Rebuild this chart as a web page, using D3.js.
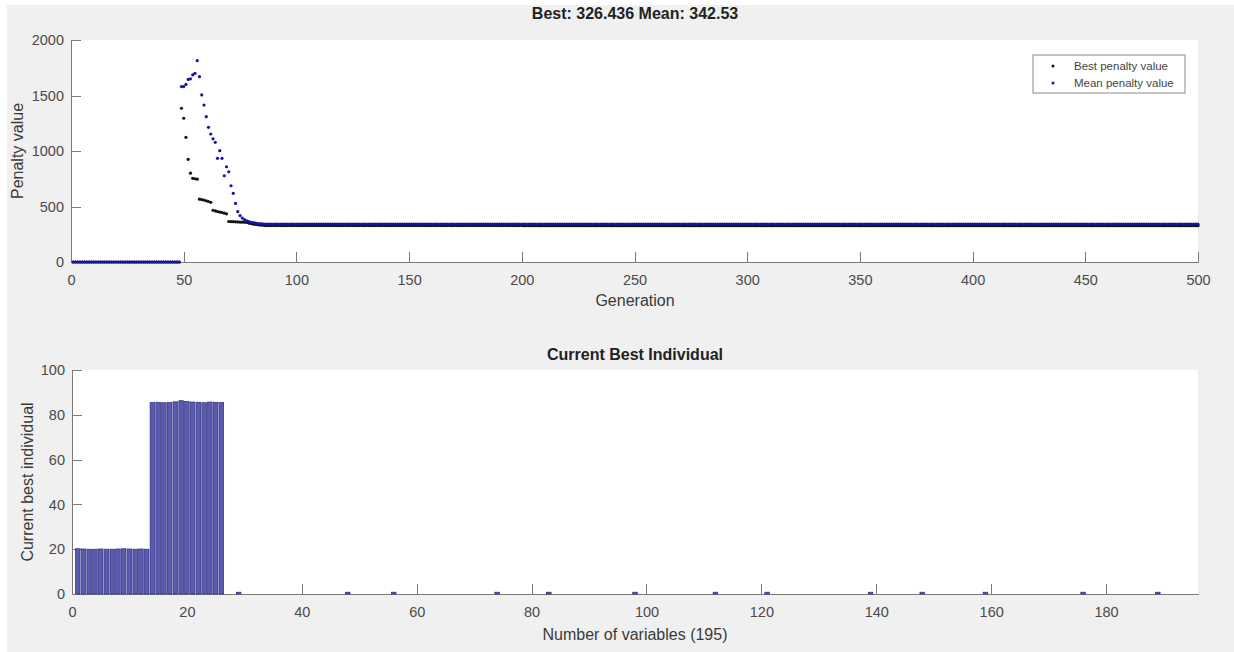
<!DOCTYPE html>
<html>
<head>
<meta charset="utf-8">
<script src="https://cdn.jsdelivr.net/npm/d3@7"></script>
<style>
  body { margin: 0; background: #fff; }
  text { font-family: "Liberation Sans", Arial, sans-serif; }
  .axis path, .axis line { stroke: #7a7a7a; shape-rendering: crispEdges; }
  .axis text { fill: #4a4a4a; font-size: 14.5px; }
</style>
</head>
<body>
<div id="chart"></div>
<script>
// top plot: penalty per generation
// flat stretches as [fromGen, toGen, value]
var bestFlat = [[1, 48, 0], [86, 200, 328], [201, 500, 326.4]];
var meanFlat = [[1, 48, 0], [86, 180, 342], [181, 500, 341]];
// the transition, one value per generation starting at 49
var transGen0 = 49;
var bestTrans = [1385, 1295, 1123, 925, 800, 754, 750, 746, 566, 562, 558, 552, 545, 538,
                 466, 460, 455, 450, 446, 440, 434, 365, 364, 363, 362, 361, 360, 359, 358,
                 356, 350, 345, 341, 338, 335, 333, 331];
var meanTrans = [1580, 1580, 1600, 1645, 1650, 1685, 1700, 1814, 1670, 1505, 1414, 1309, 1213,
                 1153, 1110, 1078, 934, 1003, 934, 777, 858, 813, 687, 619, 528, 453, 418, 396,
                 381, 371, 364, 358, 354, 350, 347, 345, 344];
var genTicks = [0, 50, 100, 150, 200, 250, 300, 350, 400, 450, 500];
var penaltyTicks = [0, 500, 1000, 1500, 2000];

// bottom plot: current best individual, 195 variables
var nVars = 195;
var lowVars = [20.2, 20.1, 20, 20, 20.1, 20, 20, 20.1, 20.2, 20.1, 20, 20.1, 20];          // vars 1-13
var highVars = [85.5, 85.6, 85.4, 85.5, 85.8, 86.3, 85.9, 85.7, 85.6, 85.4, 85.7, 85.6, 85.5]; // vars 14-26
var tinyVars = [29, 48, 56, 74, 83, 98, 112, 121, 139, 148, 159, 176, 189]; // small non-zero vars
var tinyValue = 0.8;
var varTicks = [0, 20, 40, 60, 80, 100, 120, 140, 160, 180];
var indivTicks = [0, 20, 40, 60, 80, 100];

function buildSeries(flat, trans) {
  var out = [];
  flat.forEach(function(r) {
    for (var g = r[0]; g <= r[1]; g++) out.push({gen: g, val: r[2]});
  });
  trans.forEach(function(v, i) { out.push({gen: transGen0 + i, val: v}); });
  return out;
}

var best = buildSeries(bestFlat, bestTrans),
    mean = buildSeries(meanFlat, meanTrans);

var indiv = [];
for (var i = 1; i <= nVars; i++) indiv.push({v: i, val: 0});
lowVars.forEach(function(d, i) { indiv[i].val = d; });
highVars.forEach(function(d, i) { indiv[13 + i].val = d; });
tinyVars.forEach(function(v) { indiv[v - 1].val = tinyValue; });

var fmt = d3.format("d");

var svg = d3.select("#chart")
    .append("svg")
    .attr("width", 1234)
    .attr("height", 652);

// figure background
svg.append("rect")
    .attr("x", 7).attr("y", 5)
    .attr("width", 1227).attr("height", 647)
    .attr("fill", "#f0f0f0");

// ---------- top axes ----------
var x = d3.scaleLinear().domain([0, 500]).range([71, 1198]),
    y = d3.scaleLinear().domain([0, 2000]).range([262, 40]);

svg.append("rect")
    .attr("x", x(0)).attr("y", y(2000))
    .attr("width", x(500) - x(0)).attr("height", y(0) - y(2000))
    .attr("fill", "#fff");

svg.append("g")
    .attr("class", "axis")
    .attr("transform", "translate(0," + y(0) + ")")
    .call(d3.axisBottom(x).tickValues(genTicks).tickFormat(fmt)
      .tickSizeInner(-10).tickSizeOuter(0).tickPadding(13));

svg.append("g")
    .attr("class", "axis")
    .attr("transform", "translate(" + x(0) + ",0)")
    .call(d3.axisLeft(y).tickValues(penaltyTicks).tickFormat(fmt)
      .tickSizeInner(-10).tickSizeOuter(0).tickPadding(7));

svg.append("g").selectAll("circle")
    .data(best)
  .enter().append("circle")
    .attr("cx", function(d) { return x(d.gen); })
    .attr("cy", function(d) { return y(d.val); })
    .attr("r", 1.6)
    .attr("fill", "#111");

svg.append("g").selectAll("circle")
    .data(mean)
  .enter().append("circle")
    .attr("cx", function(d) { return x(d.gen); })
    .attr("cy", function(d) { return y(d.val); })
    .attr("r", 1.6)
    .attr("fill", "#1414a0");

svg.append("text")
    .attr("x", 635).attr("y", 19)
    .attr("text-anchor", "middle")
    .attr("font-size", "16px").attr("font-weight", "bold")
    .attr("fill", "#222")
    .text("Best: 326.436 Mean: 342.53");

svg.append("text")
    .attr("x", 635).attr("y", 306)
    .attr("text-anchor", "middle")
    .attr("font-size", "16px")
    .attr("fill", "#3a3a3a")
    .text("Generation");

svg.append("text")
    .attr("transform", "translate(23,151) rotate(-90)")
    .attr("text-anchor", "middle")
    .attr("font-size", "16px")
    .attr("fill", "#3a3a3a")
    .text("Penalty value");

// legend
var legend = svg.append("g").attr("transform", "translate(1033,55)");
legend.append("rect")
    .attr("width", 152).attr("height", 38)
    .attr("fill", "#fff")
    .attr("stroke", "#8a8a8a");
[["Best penalty value", "#111"], ["Mean penalty value", "#1414a0"]].forEach(function(e, i) {
  legend.append("circle")
      .attr("cx", 20).attr("cy", 11 + i * 17)
      .attr("r", 1.5).attr("fill", e[1]);
  legend.append("text")
      .attr("x", 41).attr("y", 15 + i * 17)
      .attr("font-size", "11.5px")
      .attr("fill", "#444")
      .text(e[0]);
});

// ---------- bottom axes ----------
var x2 = d3.scaleLinear().domain([0, nVars + 1]).range([72, 1198]),
    y2 = d3.scaleLinear().domain([0, 100]).range([594, 370]);

svg.append("rect")
    .attr("x", x2(0)).attr("y", y2(100))
    .attr("width", x2(nVars + 1) - x2(0)).attr("height", y2(0) - y2(100))
    .attr("fill", "#fff");

svg.append("g")
    .attr("class", "axis")
    .attr("transform", "translate(0," + y2(0) + ")")
    .call(d3.axisBottom(x2).tickValues(varTicks).tickFormat(fmt)
      .tickSizeInner(-10).tickSizeOuter(0).tickPadding(13));

svg.append("g")
    .attr("class", "axis")
    .attr("transform", "translate(" + x2(0) + ",0)")
    .call(d3.axisLeft(y2).tickValues(indivTicks).tickFormat(fmt)
      .tickSizeInner(-10).tickSizeOuter(0).tickPadding(7));

var bw = x2(0.8) - x2(0);
svg.append("g").selectAll("rect")
    .data(indiv.filter(function(d) { return d.val > 0; }))
  .enter().append("rect")
    .attr("x", function(d) { return x2(d.v) - bw / 2; })
    .attr("y", function(d) { return y2(d.val); })
    .attr("width", bw)
    .attr("height", function(d) { return y2(0) - y2(d.val); })
    .attr("fill", "#5a5ab0")
    .attr("stroke", "#2c2c7c")
    .attr("stroke-width", 0.7);

svg.append("text")
    .attr("x", 635).attr("y", 360)
    .attr("text-anchor", "middle")
    .attr("font-size", "16px").attr("font-weight", "bold")
    .attr("fill", "#222")
    .text("Current Best Individual");

svg.append("text")
    .attr("x", 635).attr("y", 640)
    .attr("text-anchor", "middle")
    .attr("font-size", "16px")
    .attr("fill", "#3a3a3a")
    .text("Number of variables (195)");

svg.append("text")
    .attr("transform", "translate(33,482) rotate(-90)")
    .attr("text-anchor", "middle")
    .attr("font-size", "16px")
    .attr("fill", "#3a3a3a")
    .text("Current best individual");
</script>
</body>
</html>
